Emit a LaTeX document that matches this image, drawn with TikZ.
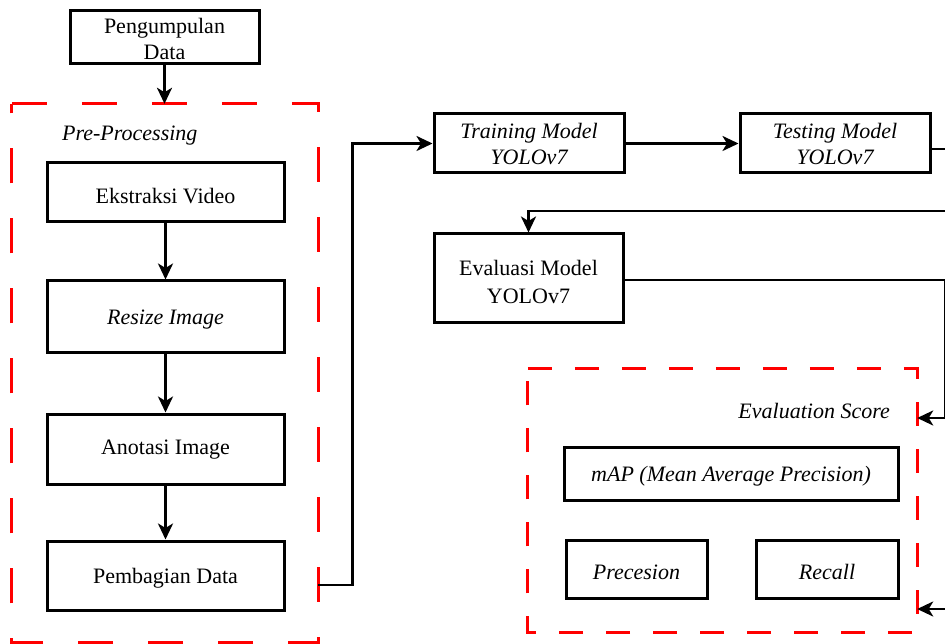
\documentclass[tikz,border=0pt]{standalone}
\usepackage{fontspec}
\setmainfont{Liberation Serif}
\usetikzlibrary{arrows.meta}
\newcommand\dnstrut{\rule{0pt}{21.5pt}}
\begin{document}
\begin{tikzpicture}[x=1pt,y=-1pt,
  box/.style={draw=black,line width=3pt,align=center,inner sep=0pt,
    font=\fontsize{22}{26}\selectfont},
  grp/.style={draw=none,inner sep=0pt},
  redA/.style={draw=red,line width=3pt,dash pattern=on 35pt off 35pt},
  redB/.style={draw=red,line width=3pt,dash pattern=on 24pt off 23pt},
  conn/.style={draw=black,line width=2.7pt},
  arr/.style={conn,-{Stealth[length=16pt,width=15pt,inset=4.5pt]}},
  lbl/.style={font=\fontsize{22}{26}\selectfont\itshape,inner sep=0pt}]
\clip (0,0) rectangle (945,644);
% groups
\node[grp,minimum width=306pt,minimum height=538pt] (pre) at (165,373) {};
\node[grp,minimum width=389pt,minimum height=263pt] (evalg) at (722.5,500.5) {};
\draw[redA] (pre.north west) -- (pre.north east) -- (pre.south east) -- (pre.south west) -- cycle;
\draw[redB] (evalg.north west) -- (evalg.north east) -- (evalg.south east) -- (evalg.south west) -- cycle;
\node[lbl,anchor=west] (pretitle) at (62,136) {Pre-Processing};
\node[lbl,anchor=east] (evaltitle) at (890,411) {Evaluation Score};
% boxes
\node[box,minimum width=189pt,minimum height=53pt] (data) at (164.5,37.5) {\rule{0pt}{19pt}Pengumpulan\\Data};
\node[box,minimum width=237pt,minimum height=59pt] (ekstraksi) at (165.5,192.5) {\dnstrut Ekstraksi Video};
\node[box,minimum width=237pt,minimum height=71pt] (resize) at (165.5,316.5) {\dnstrut\itshape Resize Image};
\node[box,minimum width=237pt,minimum height=70pt] (anotasi) at (165.5,449) {\rule{0pt}{16pt}Anotasi Image};
\node[box,minimum width=237pt,minimum height=69pt] (pembagian) at (165.5,575.5) {\rule{0pt}{20pt}Pembagian Data};
\node[box,minimum width=190pt,minimum height=59pt] (training) at (529,143.5) {\rule{0pt}{17pt}\itshape Training Model\\\itshape YOLOv7};
\node[box,minimum width=190pt,minimum height=59pt] (testing) at (835,143.5) {\rule{0pt}{17pt}\itshape Testing Model\\\itshape YOLOv7};
\node[box,minimum width=189pt,minimum height=89pt] (evaluasi) at (528.5,278.5) {\dnstrut Evaluasi Model\\[2pt]YOLOv7};
\node[box,minimum width=334pt,minimum height=53pt] (map) at (731,473.5) {\rule{0pt}{20pt}\itshape mAP (Mean Average Precision)};
\node[box,minimum width=141pt,minimum height=58pt] (precesion) at (636.5,569) {\dnstrut\itshape Precesion};
\node[box,minimum width=142pt,minimum height=58pt] (recall) at (827,569) {\dnstrut\itshape Recall};
% connectors
\draw[arr] (data.south) -- (data.south |- pre.north);
\draw[arr] (ekstraksi) -- (resize);
\draw[arr] (resize) -- (anotasi);
\draw[arr] (anotasi) -- (pembagian);
\draw[arr] ([yshift=-9.5pt]pembagian.east -| pre.east) -- ++(34,0) |- (training.west);
\draw[arr] (training) -- (testing);
\draw[arr] ([yshift=-5.5pt]testing.east) -- ++(20,0) -- ++(0,62) -| (evaluasi.north);
\coordinate (rail) at (945,418);
\coordinate (railb) at (950,418);
\coordinate (rail2) at (950,609);
\draw[conn] ([yshift=-1.5pt]evaluasi.east) -| (rail);
\draw[arr] (railb) -- (railb -| evalg.east);
\draw[arr] (railb) -- (rail2) -- (rail2 -| evalg.east);
\end{tikzpicture}
\end{document}
